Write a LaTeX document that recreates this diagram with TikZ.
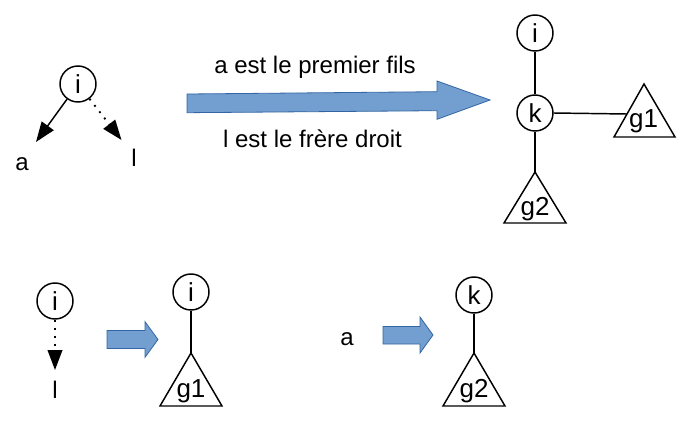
\documentclass[tikz,border=0pt]{standalone}
\usepackage{fontspec}
\setmainfont{Liberation Sans}
\usetikzlibrary{arrows.meta}
\definecolor{arrfill}{RGB}{114,159,207}
\definecolor{arrdraw}{RGB}{52,101,164}
\begin{document}
\begin{tikzpicture}[x=0.75pt,y=-0.75pt,
  every node/.style={font=\fontsize{18}{21}\selectfont},
  cnode/.style={draw,circle,line width=1.1pt,minimum size=27pt,inner sep=0pt,font=\fontsize{19.5}{22}\selectfont},
  edge/.style={line width=1.1pt},
  tri/.style={line width=1.1pt,line join=miter},
  bigarrow/.style={fill=arrfill,draw=arrdraw,line width=0.6pt},
  dotline/.style={line width=1.4pt,dash pattern=on 1.4pt off 4.6pt},
  headtip/.style={-{Triangle[length=15pt,width=11pt]}},
  lbl/.style={inner sep=0pt,anchor=base},
  tlbl/.style={inner sep=0pt,anchor=base,font=\fontsize{19.5}{22}\selectfont}]
\useasboundingbox (0,0) rectangle (688,436);

% ---- top left ----
\node[cnode] (i1) at (78,84) {i};
\coordinate (atip) at (36,142);
\coordinate (ltip) at (121.5,140);
\node[lbl] (a1) at (22,170) {a};
\node[lbl] (l1) at (134,166.5) {l};
\draw[edge,headtip] (i1) -- (atip);
\draw[dotline,headtip] (i1) -- (ltip);

% ---- big arrow ----
\draw[bigarrow] (187,94) -- (437,91.7) -- (437,81) -- (490,100) -- (437,119.3) -- (437,110.7) -- (187,112.7) -- cycle;
\node[lbl] (t1) at (315,73.5) {a est le premier fils};
\node[lbl] (t2) at (312.5,147) {l est le frère droit};

% ---- top right ----
\node[cnode] (i2) at (535,33) {i};
\node[cnode] (k1) at (535,113) {k};
\coordinate (g1left) at (627,114);
\coordinate (g2top) at (535,172);
\draw[tri] (644,84) -- (675,137) -- (614,137) -- cycle;
\draw[tri] (g2top) -- (566,223) -- (504,223) -- cycle;
\node[tlbl] (g1a) at (643.5,127) {g1};
\node[tlbl] (g2a) at (535,215.5) {g2};
\draw[edge] (i2) -- (k1);
\draw[edge] (k1.east) -- (g1left);
\draw[edge] (k1) -- (g2top);

% ---- bottom left ----
\node[cnode] (i3) at (55,301) {i};
\coordinate (l2tip) at (55,370);
\node[lbl] (l2) at (55,398) {l};
\draw[dotline,headtip] (i3) -- (l2tip);

\draw[bigarrow] (107,330.5) -- (145,330.5) -- (145,321.7) -- (158,339.5) -- (145,357.3) -- (145,348.5) -- (107,348.5) -- cycle;

\node[cnode] (i4) at (191,292) {i};
\coordinate (g1top) at (191,353);
\draw[tri] (g1top) -- (222,406) -- (160,406) -- cycle;
\node[tlbl] (g1b) at (191,397) {g1};
\draw[edge] (i4) -- (g1top);

% ---- bottom right ----
\node[lbl] (a2) at (347,345) {a};
\draw[bigarrow] (383,326.5) -- (420,326.5) -- (420,317) -- (433,335) -- (420,353) -- (420,344) -- (383,344) -- cycle;

\node[cnode] (k2) at (474,295) {k};
\coordinate (g2btop) at (474,353);
\draw[tri] (g2btop) -- (505,406) -- (443,406) -- cycle;
\node[tlbl] (g2b) at (474,397) {g2};
\draw[edge] (k2) -- (g2btop);
\end{tikzpicture}
\end{document}
